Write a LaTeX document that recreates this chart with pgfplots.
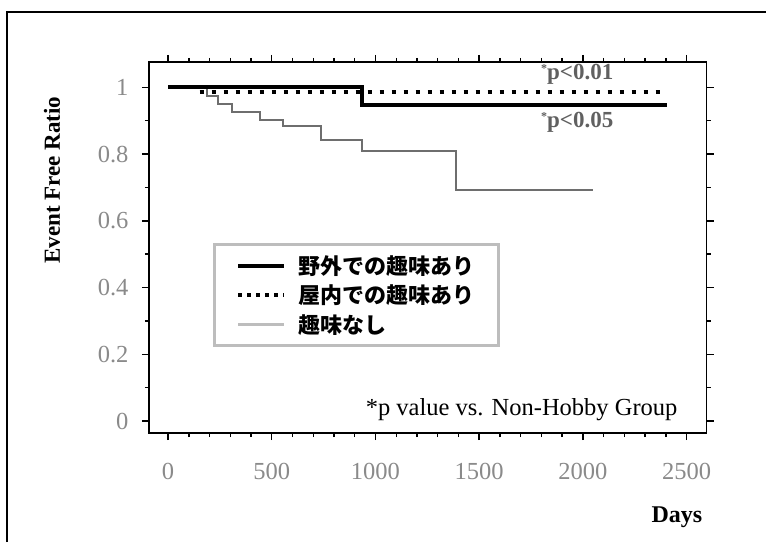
\documentclass[border=0pt]{standalone}
\usepackage{fontspec}
\setmainfont{Liberation Serif}
\newfontfamily\jp{Noto Sans CJK JP}
\usepackage{pgfplots}
\pgfplotsset{compat=1.18}
\definecolor{tickgray}{HTML}{8A8A8A}
\definecolor{kmgray}{HTML}{6E6E6E}
\definecolor{leggray}{HTML}{BDBDBD}
\definecolor{pgray}{HTML}{606060}
\begin{document}
\begin{tikzpicture}[x=1pt,y=1pt]
\path[use as bounding box] (0,0) rectangle (766,542);
\draw[line width=1.5pt,black] (7,0) -- (7,530) -- (766,530);
\begin{axis}[
  at={(149pt,109pt)}, anchor=south west,
  width=557.5pt, height=371pt, scale only axis,
  xmin=-92, xmax=2596, ymin=-0.036, ymax=1.076,
  xtick={0,500,1000,1500,2000,2500},
  ytick={0,0.2,0.4,0.6,0.8,1},
  minor x tick num=4, minor y tick num=1,
  tick align=outside, tick pos=both,
  major tick length=7pt, minor tick length=4pt,
  every tick/.style={black, line width=1.4pt},
  axis line style={line width=1.8pt},
  /pgf/number format/assume math mode=true,
  /pgf/number format/1000 sep={},
  ticklabel style={font=\fontsize{24.5}{24.5}\selectfont, text=tickgray},
  xticklabel style={yshift=-20pt},
  yticklabel style={xshift=-10pt},
  legend style={at={(0.114,0.512)}, anchor=north west, draw=leggray, line width=3pt,
     font=\jp\bfseries\fontsize{22}{22}\selectfont, row sep=5pt, column sep=10pt,
     inner xsep=22pt, inner ysep=9pt, text=black},
  legend cell align=left,
  legend image code/.code={\draw[#1] (0pt,0pt) -- (46pt,0pt);},
]
\addplot[const plot, kmgray, line width=2pt, forget plot] coordinates {
 (0,1) (190,0.975) (240,0.951) (306,0.926) (442,0.903) (552,0.883) (736,0.843) (937,0.808) (1387,0.693) (2048,0.693)};
\addplot[const plot, black, line width=4pt, forget plot] coordinates {
 (0,1) (936,0.947) (2405,0.947)};
\addplot[const plot, black, line width=4pt, dash pattern=on 4pt off 8pt, forget plot] coordinates {
 (0,1) (143,0.987) (2371,0.987)};
\addlegendimage{black, line width=4pt}
\addlegendentry{野外での趣味あり}
\addlegendimage{black, line width=4pt, dash pattern=on 4pt off 5pt}
\addlegendentry{屋内での趣味あり}
\addlegendimage{leggray, line width=3pt}
\addlegendentry{趣味なし}
\end{axis}
\node[rotate=90, font=\bfseries\fontsize{23}{23}\selectfont] at (52,362) {Event Free Ratio};
\node[font=\bfseries\fontsize{24}{24}\selectfont] at (677,25) {Days};
\node[anchor=east, font=\fontsize{24.5}{24.5}\selectfont] at (681,132) {*p value vs. Non-Hobby Group};
\node[anchor=west, text=pgray, font=\bfseries\fontsize{23}{23}\selectfont, inner sep=0pt] at (541,468) {\raisebox{0.6ex}{\fontsize{12}{12}\selectfont *}p<0.01};
\node[anchor=west, text=pgray, font=\bfseries\fontsize{23}{23}\selectfont, inner sep=0pt] at (541,420) {\raisebox{0.6ex}{\fontsize{12}{12}\selectfont *}p<0.05};
\end{tikzpicture}
\end{document}
